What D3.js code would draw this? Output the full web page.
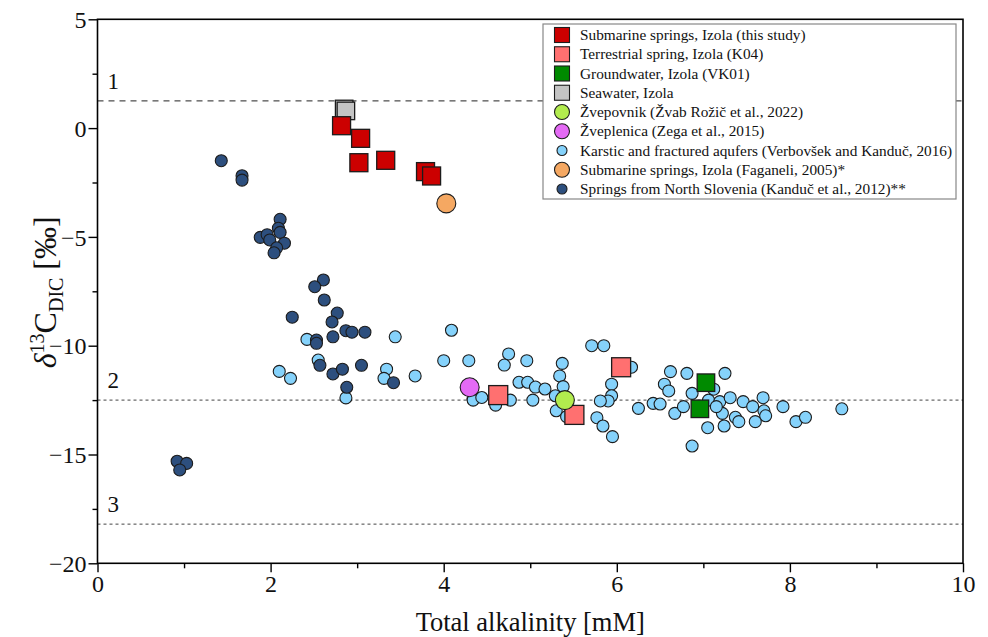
<!DOCTYPE html>
<html>
<head>
<meta charset="utf-8">
<script src="https://cdn.jsdelivr.net/npm/d3@7"></script>
<style>
  body { margin: 0; background: #fff; }
  svg { display: block; }
  svg text { font-family: "Liberation Serif", "Tinos", "Times New Roman", serif !important; }
</style>
</head>
<body>
<svg id="chart" width="988" height="637"></svg>
<script>
// ---------------- DATA ----------------
const xTicks = [0, 2, 4, 6, 8, 10];
const xMinorTicks = [1, 3, 5, 7, 9];
const yTicks = [5, 0, -5, -10, -15, -20];
const yMinorTicks = [2.5, -2.5, -7.5, -12.5, -17.5];

const refLines = [
  { label: "1", value: 1.25, style: "long" },
  { label: "2", value: -12.5, style: "short" },
  { label: "3", value: -18.2, style: "short" }
];

// Springs from North Slovenia (Kanduč et al., 2012)
const northSlovenia = [
  [1.43,-1.50],[1.67,-2.19],[1.67,-2.39],[2.11,-4.19],[2.09,-4.60],[2.11,-4.79],
  [1.88,-5.02],[1.96,-4.90],[1.99,-5.14],[2.16,-5.29],[2.07,-5.50],[2.04,-5.73],
  [2.61,-6.98],[2.51,-7.29],[2.62,-7.90],[2.25,-8.69],[2.77,-8.50],[2.71,-8.91],
  [2.87,-9.31],[2.94,-9.38],[3.09,-9.38],[2.72,-9.59],[2.53,-9.74],[2.53,-9.89],
  [2.57,-10.90],[2.72,-11.30],[2.83,-11.08],[3.05,-10.90],[2.88,-11.91],[3.42,-11.70],
  [0.92,-15.31],[1.03,-15.41],[0.95,-15.71]
];

// Karstic and fractured aquifers (Verbovšek and Kanduč, 2016)
const karstic = [
  [2.42,-9.71],[2.55,-10.66],[2.10,-11.18],[2.23,-11.50],[2.87,-12.40],[3.44,-9.59],
  [3.34,-11.08],[3.31,-11.50],[3.67,-11.39],[4.09,-9.29],[4.00,-10.69],[4.29,-10.69],
  [4.34,-12.46],[4.75,-10.38],[4.70,-10.89],[4.96,-10.69],[4.87,-11.68],[4.97,-11.68],
  [5.06,-11.90],[5.17,-11.99],[5.03,-12.50],[4.77,-12.50],[4.34,-12.50],[4.44,-12.38],
  [4.60,-12.73],[5.71,-10.00],[5.85,-10.00],[5.37,-10.81],[5.34,-11.39],[5.38,-11.88],
  [5.29,-12.30],[5.30,-12.99],[5.42,-13.26],[6.17,-10.99],[5.94,-11.77],[5.94,-12.30],
  [5.90,-12.54],[5.81,-12.54],[5.77,-13.31],[5.84,-13.69],[5.95,-14.18],[6.25,-12.88],
  [6.42,-12.65],[6.50,-12.68],[6.62,-11.19],[6.81,-11.27],[6.55,-11.77],[6.60,-12.08],
  [6.67,-13.11],[6.77,-12.80],[6.87,-12.19],[6.87,-14.61],[7.25,-11.27],[7.12,-12.00],
  [7.06,-12.50],[7.19,-12.57],[7.31,-12.39],[7.46,-12.57],[7.69,-12.39],[7.57,-12.80],
  [7.70,-12.99],[7.72,-13.22],[7.92,-12.80],[8.07,-13.49],[8.18,-13.29],[8.60,-12.90],
  [7.22,-13.11],[7.37,-13.29],[7.41,-13.49],[7.60,-13.49],[7.05,-13.77],[7.24,-13.69],
  [7.15,-12.80]
];

// Submarine springs, Izola (Faganeli, 2005)
const faganeli = [[4.03,-3.46]];
// Žvepovnik (Žvab Rožič et al., 2022)
const zvepovnik = [[5.40,-12.50]];
// Žveplenica (Zega et al., 2015)
const zveplenica = [[4.30,-11.91]];
// Seawater, Izola
const seawater = [[2.85,0.88],[2.87,0.79]];
// Groundwater, Izola (VK01)
const groundwater = [[7.03,-11.70],[6.96,-12.90]];
// Terrestrial spring, Izola (K04)
const terrestrial = [[4.63,-12.27],[5.51,-13.18],[6.05,-10.99]];
// Submarine springs, Izola (this study)
const submarine = [[2.82,0.11],[3.04,-0.47],[3.02,-1.59],[3.33,-1.48],[3.79,-2.00],[3.86,-2.20]];

const legendLabels = [
  "Submarine springs, Izola (this study)",
  "Terrestrial spring, Izola (K04)",
  "Groundwater, Izola (VK01)",
  "Seawater, Izola",
  "Žvepovnik (Žvab Rožič et al., 2022)",
  "Žveplenica (Zega et al., 2015)",
  "Karstic and fractured aqufers (Verbovšek and Kanduč, 2016)",
  "Submarine springs, Izola (Faganeli, 2005)*",
  "Springs from North Slovenia (Kanduč et al., 2012)**"
];

// ---------------- STYLE ----------------
const FONT = "'Liberation Serif', 'Tinos', 'Times New Roman', serif";
const colors = {
  submarine: "#cc0000", terrestrial: "#ff7070", groundwater: "#008a00", seawater: "#c4c4c4",
  zvepovnik: "#b2ec4e", zveplenica: "#e46af5", karstic: "#85d2fb", faganeli: "#f5a862",
  north: "#2d4f7e"
};

const legendItems = [
  { shape: "square", color: colors.submarine, size: 15 },
  { shape: "square", color: colors.terrestrial, size: 15 },
  { shape: "square", color: colors.groundwater, size: 15 },
  { shape: "square", color: colors.seawater, size: 15 },
  { shape: "circle", color: colors.zvepovnik, size: 15 },
  { shape: "circle", color: colors.zveplenica, size: 15 },
  { shape: "circle", color: colors.karstic, size: 10 },
  { shape: "circle", color: colors.faganeli, size: 15 },
  { shape: "circle", color: colors.north, size: 10 }
];

const svg = d3.select("#chart").attr("font-family", FONT);
const W = 988, H = 637;
const m = { left: 97.5, right: 988 - 963, top: 19.3, bottom: 637 - 563.3 };

const x = d3.scaleLinear().domain([0, 10]).range([m.left, W - m.right]);
const y = d3.scaleLinear().domain([-20, 5]).range([H - m.bottom, m.top]);

// Reference lines
refLines.forEach(r => {
  svg.append("line")
    .attr("x1", x(0)).attr("x2", x(10))
    .attr("y1", y(r.value)).attr("y2", y(r.value))
    .attr("stroke", r.style === "long" ? "#222" : "#444")
    .attr("stroke-width", 1)
    .attr("stroke-dasharray", r.style === "long" ? "6,5" : "3,3");
  svg.append("text")
    .attr("x", x(0) + 10).attr("y", y(r.value) - 12)
    .attr("font-family", FONT)
    .attr("font-size", 23).attr("fill", "#111")
    .text(r.label);
});

const stroke = "#1c1c1c";
function circles(data, color, r) {
  svg.append("g").selectAll("circle").data(data).enter().append("circle")
    .attr("cx", d => x(d[0])).attr("cy", d => y(d[1])).attr("r", r)
    .attr("fill", color).attr("stroke", stroke).attr("stroke-width", 1.1);
}
function squares(data, color, s) {
  svg.append("g").selectAll("rect").data(data).enter().append("rect")
    .attr("x", d => x(d[0]) - s / 2).attr("y", d => y(d[1]) - s / 2)
    .attr("width", s).attr("height", s)
    .attr("fill", color).attr("stroke", stroke).attr("stroke-width", 1.3);
}

circles(karstic, colors.karstic, 6);
circles(northSlovenia, colors.north, 6);
circles(faganeli, colors.faganeli, 9.5);
circles(zveplenica, colors.zveplenica, 9.5);
squares(terrestrial, colors.terrestrial, 19);
circles(zvepovnik, colors.zvepovnik, 9.5);
squares(groundwater, colors.groundwater, 17.5);
squares(seawater, colors.seawater, 17.5);
squares(submarine, colors.submarine, 18);

// Axes
const axX = svg.append("g").attr("transform", `translate(0,${y(-20)})`)
  .call(d3.axisBottom(x).tickValues(xTicks).tickSize(9).tickPadding(2).tickFormat(d3.format("d")));
const axXm = svg.append("g").attr("transform", `translate(0,${y(-20)})`)
  .call(d3.axisBottom(x).tickValues(xMinorTicks).tickSize(5).tickFormat(""));
const axY = svg.append("g").attr("transform", `translate(${x(0)},0)`)
  .call(d3.axisLeft(y).tickValues(yTicks).tickSize(9).tickPadding(2).tickFormat(d3.format("d")));
const axYm = svg.append("g").attr("transform", `translate(${x(0)},0)`)
  .call(d3.axisLeft(y).tickValues(yMinorTicks).tickSize(5).tickFormat(""));
[axX, axXm, axY, axYm].forEach(a => {
  a.attr("font-family", FONT);
  a.select(".domain").remove();
  a.selectAll("line").attr("stroke", "#000").attr("stroke-width", 1.4);
  a.selectAll("text").attr("font-size", 24).attr("fill", "#111").attr("font-family", FONT);
});
axX.selectAll("text").attr("dy", "0.72em");
axY.selectAll("text").attr("dy", "0.34em");

// Frame
svg.append("rect")
  .attr("x", x(0)).attr("y", y(5))
  .attr("width", x(10) - x(0)).attr("height", y(-20) - y(5))
  .attr("fill", "none").attr("stroke", "#000").attr("stroke-width", 1.6);

// Axis titles
svg.append("text")
  .attr("x", (x(0) + x(10)) / 2).attr("y", 631)
  .attr("text-anchor", "middle").attr("font-size", 26.5).attr("fill", "#111")
  .attr("font-family", FONT)
  .text("Total alkalinity [mM]");

const yt = svg.append("text")
  .attr("transform", `translate(56,${(y(5) + y(-20)) / 2 + 1}) rotate(-90)`)
  .attr("text-anchor", "middle").attr("font-size", 32).attr("fill", "#111")
  .attr("font-family", FONT);
yt.append("tspan").attr("font-style", "italic").text("δ");
yt.append("tspan").attr("font-size", 20).attr("dy", -12).text("13");
yt.append("tspan").attr("dy", 12).text("C");
yt.append("tspan").attr("font-size", 20).attr("dy", 7).text("DIC");
yt.append("tspan").attr("dy", -7).text(" [‰]");

// Legend
const lg = svg.append("g");
const lx = 543, ly = 24, lw = 413, lh = 175, rowH = 19.25;
lg.append("rect").attr("x", lx).attr("y", ly).attr("width", lw).attr("height", lh)
  .attr("fill", "#fff").attr("stroke", "#888").attr("stroke-width", 1.2);
legendItems.forEach((it, i) => {
  const cy = ly + 11 + i * rowH, cx = lx + 19;
  if (it.shape === "square") {
    lg.append("rect").attr("x", cx - it.size / 2).attr("y", cy - it.size / 2)
      .attr("width", it.size).attr("height", it.size)
      .attr("fill", it.color).attr("stroke", stroke).attr("stroke-width", 1.1);
  } else {
    lg.append("circle").attr("cx", cx).attr("cy", cy).attr("r", it.size / 2)
      .attr("fill", it.color).attr("stroke", stroke).attr("stroke-width", 1.1);
  }
  lg.append("text").attr("x", lx + 37).attr("y", cy + 5)
    .attr("font-family", FONT)
    .attr("font-size", 15.3).attr("fill", "#111").text(legendLabels[i]);
});
</script>
</body>
</html>
